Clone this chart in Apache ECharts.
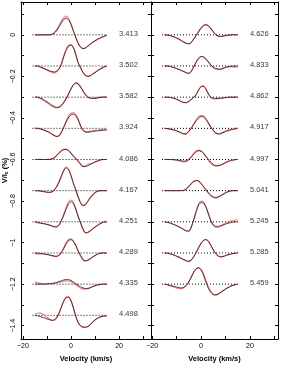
<!DOCTYPE html>
<html><head><meta charset="utf-8">
<script src="https://cdn.jsdelivr.net/npm/echarts@6/dist/echarts.min.js"></script>
<style>html,body{margin:0;padding:0;background:#fff}#c{width:281px;height:368px}</style>
</head><body><div id="c"></div>
<script>
// velocity grid (km/s)
const velocity = [-15,-14,-13,-12,-11,-10,-9,-8,-7,-6,-5,-4,-3,-2,-1,0,1,2,3,4,5,6,7,8,9,10,11,12,13,14,15];
// left column epochs (labels) and baseline offsets (%)
const leftLabels = ['3.413','3.502','3.582','3.924','4.086','4.167','4.251','4.289','4.335','4.498'];
const rightLabels = ['4.626','4.833','4.862','4.917','4.997','5.041','5.245','5.285','5.459'];
const offsets = [0,-0.15,-0.30,-0.45,-0.60,-0.75,-0.90,-1.05,-1.20,-1.35];
const baselineRange = [-16, 15];
const labelVelocity = 20;
const xTickLabels = [-20, 0, 20];
const xTicks = [-20, -10, 0, 10, 20, 30];
const yTickLabels = [0, -0.2, -0.4, -0.6, -0.8, -1, -1.2, -1.4];
const yTicks = [0.1, 0, -0.1, -0.2, -0.3, -0.4, -0.5, -0.6, -0.7, -0.8, -0.9, -1.0, -1.1, -1.2, -1.3, -1.4];

// model (black) Stokes V profiles, V/Ic in %
const mod_3413 = [0,0,0,0,0,0,0,.002,.008,.02,.038,.058,.074,.08,.072,.05,.018,-.012,-.04,-.058,-.066,-.064,-.055,-.045,-.036,-.028,-.022,-.017,-.011,-.006,-.002];
const mod_3502 = [0,0,-.004,-.008,-.013,-.018,-.023,-.027,-.029,-.025,-.015,.008,.045,.075,.095,.1,.088,.055,.015,-.008,-.03,-.045,-.05,-.047,-.04,-.032,-.024,-.016,-.01,-.004,0];
const mod_3582 = [0,0,-.003,-.008,-.015,-.022,-.03,-.038,-.045,-.049,-.048,-.04,-.025,-.008,.015,.04,.06,.069,.065,.05,.03,.012,0,-.005,-.006,-.006,-.004,-.002,0,0,0];
const mod_3924 = [0,0,-.002,-.005,-.01,-.015,-.02,-.027,-.034,-.039,-.036,-.02,.005,.03,.052,.065,.068,.06,.04,.012,-.01,-.018,-.019,-.017,-.015,-.013,-.012,-.011,-.01,-.009,-.008];
const mod_4086 = [0,0,0,0,0,0,0,.002,.008,.018,.03,.041,.047,.048,.042,.03,.017,.005,-.008,-.022,-.033,-.034,-.03,-.024,-.018,-.012,-.007,-.003,0,0,0];
const mod_4167 = [0,0,-.001,-.003,-.005,-.007,-.008,-.006,.002,.018,.04,.068,.095,.11,.1,.072,.035,.004,-.03,-.058,-.071,-.068,-.052,-.034,-.02,-.009,-.003,0,0,0,0];
const mod_4251 = [0,-.002,-.005,-.008,-.01,-.012,-.015,-.019,-.023,-.024,-.016,.005,.032,.062,.087,.097,.088,.06,.025,-.005,-.035,-.053,-.052,-.044,-.035,-.026,-.018,-.01,-.004,0,0];
const mod_4289 = [0,-.001,-.002,-.003,-.005,-.007,-.009,-.012,-.015,-.016,-.012,.002,.022,.045,.06,.064,.056,.036,.01,-.012,-.03,-.037,-.035,-.028,-.02,-.012,-.006,-.002,0,0,0];
const mod_4335 = [0,0,0,0,0,.001,.002,.003,.005,.008,.012,.016,.02,.022,.022,.018,.01,.002,-.006,-.013,-.018,-.021,-.021,-.018,-.013,-.008,-.004,-.002,0,0,0];
const mod_4498 = [0,-.002,-.005,-.009,-.013,-.017,-.021,-.024,-.022,-.012,.01,.04,.068,.084,.086,.07,.035,-.005,-.035,-.05,-.056,-.057,-.054,-.045,-.033,-.022,-.014,-.009,-.006,-.004,-.003];
const mod_4626 = [0,-.001,-.003,-.006,-.01,-.015,-.021,-.028,-.035,-.041,-.043,-.036,-.02,-.003,.015,.032,.044,.048,.043,.03,.015,.002,-.006,-.008,-.006,-.004,-.002,-.001,0,0,0];
const mod_4833 = [0,0,-.002,-.005,-.009,-.013,-.017,-.022,-.027,-.032,-.035,-.025,-.005,.018,.036,.045,.043,.033,.02,.005,-.006,-.012,-.015,-.016,-.012,-.007,-.004,-.002,-.001,0,0];
const mod_4862 = [0,0,-.001,-.003,-.006,-.01,-.015,-.021,-.026,-.026,-.02,-.011,-.002,.012,.034,.05,.052,.038,.016,-.001,-.005,-.006,-.006,-.006,-.004,-.002,-.001,0,0,0,0];
const mod_4917 = [0,-.001,-.003,-.005,-.008,-.012,-.017,-.022,-.026,-.025,-.014,0,.018,.036,.05,.057,.055,.043,.025,.006,-.01,-.022,-.027,-.026,-.021,-.016,-.012,-.008,-.005,-.003,-.001];
const mod_4997 = [0,0,0,0,-.001,-.002,-.004,-.006,-.008,-.007,0,.012,.026,.037,.042,.04,.03,.015,.001,-.013,-.024,-.029,-.03,-.027,-.022,-.016,-.01,-.006,-.003,-.001,0];
const mod_5041 = [0,0,0,0,0,0,0,0,.001,.008,.02,.033,.043,.048,.046,.035,.02,.005,-.01,-.022,-.03,-.033,-.03,-.024,-.017,-.01,-.005,-.001,0,0,0];
const mod_5245 = [0,-.002,-.005,-.009,-.014,-.019,-.025,-.031,-.038,-.044,-.045,-.025,.01,.048,.08,.093,.09,.07,.038,.006,-.016,-.024,-.025,-.021,-.016,-.011,-.007,-.004,-.002,0,0];
const mod_5285 = [0,-.001,-.003,-.006,-.01,-.015,-.02,-.026,-.032,-.037,-.04,-.033,-.018,.002,.025,.046,.06,.064,.056,.037,.015,-.002,-.014,-.019,-.017,-.013,-.009,-.006,-.003,-.001,0];
const mod_5459 = [0,-.002,-.005,-.008,-.011,-.014,-.017,-.018,-.014,-.004,.012,.035,.058,.074,.078,.068,.043,.01,-.02,-.04,-.05,-.052,-.047,-.04,-.032,-.024,-.017,-.011,-.006,-.003,0];

// observed (red) Stokes V profiles, V/Ic in %
const obs_3413 = [0,0,0,-.001,0,0,0,.003,.01,.024,.044,.066,.083,.09,.08,.055,.02,-.012,-.042,-.06,-.066,-.062,-.054,-.045,-.037,-.03,-.022,-.015,-.01,-.006,-.003];
const obs_3502 = [.002,0,-.003,-.009,-.014,-.02,-.026,-.03,-.033,-.028,-.014,.01,.05,.082,.1,.104,.09,.056,.014,-.01,-.032,-.046,-.05,-.046,-.038,-.03,-.022,-.014,-.008,-.003,0];
const obs_3582 = [0,-.001,-.005,-.011,-.019,-.027,-.035,-.043,-.05,-.052,-.049,-.04,-.024,-.006,.016,.04,.058,.066,.062,.048,.03,.013,.002,-.003,-.004,-.003,-.002,-.001,0,0,0];
const obs_3924 = [0,0,-.003,-.006,-.01,-.014,-.02,-.028,-.035,-.04,-.036,-.018,.008,.036,.06,.074,.076,.066,.044,.014,-.008,-.015,-.016,-.014,-.012,-.01,-.008,-.007,-.006,-.005,-.004];
const obs_4086 = [0,0,.001,0,0,.001,.002,.004,.01,.02,.032,.043,.05,.05,.043,.03,.016,.004,-.01,-.024,-.034,-.032,-.022,-.02,-.018,-.013,-.008,-.004,-.001,0,0];
const obs_4167 = [0,0,-.002,-.004,-.006,-.008,-.009,-.006,.003,.02,.044,.074,.102,.115,.104,.074,.036,.003,-.032,-.06,-.072,-.066,-.05,-.034,-.021,-.01,-.004,-.001,0,0,0];
const obs_4251 = [0,-.004,-.006,-.007,-.009,-.013,-.017,-.021,-.025,-.025,-.015,.008,.038,.07,.096,.105,.094,.064,.027,-.006,-.036,-.052,-.05,-.042,-.033,-.025,-.017,-.01,-.004,-.001,0];
const obs_4289 = [-.003,-.004,-.005,-.005,-.006,-.008,-.01,-.013,-.016,-.016,-.01,.005,.026,.05,.065,.068,.058,.036,.008,-.015,-.034,-.04,-.035,-.027,-.019,-.012,-.006,-.002,0,0,0];
const obs_4335 = [.01,.008,.005,.003,.002,.002,.003,.003,.004,.006,.008,.011,.014,.016,.016,.012,.005,-.003,-.012,-.02,-.024,-.024,-.02,-.016,-.011,-.007,-.004,-.002,-.001,0,.001];
const obs_4498 = [.006,.01,.012,.008,0,-.01,-.018,-.024,-.024,-.014,.008,.04,.07,.088,.09,.072,.036,-.004,-.036,-.052,-.058,-.058,-.054,-.046,-.034,-.023,-.014,-.008,-.004,-.002,-.002];
const obs_4626 = [.002,0,-.003,-.007,-.011,-.016,-.022,-.029,-.036,-.042,-.044,-.036,-.02,-.002,.016,.034,.046,.05,.044,.03,.014,.001,-.006,-.008,-.006,-.003,-.002,0,.001,.001,0];
const obs_4833 = [.002,.001,0,-.003,-.007,-.011,-.016,-.022,-.028,-.034,-.037,-.026,-.004,.02,.038,.047,.044,.033,.019,.004,-.008,-.014,-.016,-.014,-.01,-.006,-.003,-.003,-.004,-.005,-.005];
const obs_4862 = [0,0,-.001,-.003,-.006,-.011,-.016,-.022,-.027,-.027,-.02,-.01,0,.014,.036,.052,.054,.04,.016,-.002,-.008,-.008,-.006,-.005,-.003,-.002,-.001,0,0,0,0];
const obs_4917 = [0,-.001,-.003,-.006,-.009,-.013,-.018,-.024,-.029,-.027,-.014,.002,.022,.042,.057,.063,.06,.046,.026,.006,-.01,-.022,-.026,-.024,-.018,-.012,-.008,-.005,-.002,0,.001];
const obs_4997 = [.001,0,0,-.001,-.002,-.004,-.007,-.01,-.012,-.009,.001,.014,.03,.042,.045,.041,.03,.014,-.002,-.018,-.028,-.032,-.03,-.026,-.02,-.014,-.009,-.005,-.002,0,0];
const obs_5041 = [0,0,0,0,0,0,0,.001,.003,.01,.022,.035,.045,.05,.047,.035,.019,.003,-.012,-.025,-.033,-.036,-.033,-.026,-.018,-.011,-.005,-.002,0,0,0];
const obs_5245 = [.001,-.001,-.004,-.008,-.013,-.018,-.024,-.03,-.037,-.043,-.045,-.024,.012,.052,.088,.1,.096,.074,.04,.006,-.016,-.022,-.022,-.018,-.012,-.006,-.001,.003,.006,.008,.01];
const obs_5285 = [.002,.001,-.002,-.006,-.011,-.016,-.021,-.027,-.033,-.039,-.042,-.034,-.017,.004,.028,.048,.062,.066,.057,.037,.014,-.003,-.014,-.018,-.016,-.012,-.008,-.005,-.002,0,0];
const obs_5459 = [0,-.003,-.007,-.011,-.015,-.019,-.021,-.022,-.017,-.006,.01,.034,.058,.075,.08,.072,.05,.018,-.012,-.034,-.048,-.052,-.048,-.04,-.031,-.023,-.016,-.01,-.005,-.002,0];

const leftModel = [mod_3413,mod_3502,mod_3582,mod_3924,mod_4086,mod_4167,mod_4251,mod_4289,mod_4335,mod_4498];
const leftObs = [obs_3413,obs_3502,obs_3582,obs_3924,obs_4086,obs_4167,obs_4251,obs_4289,obs_4335,obs_4498];
const rightModel = [mod_4626,mod_4833,mod_4862,mod_4917,mod_4997,mod_5041,mod_5245,mod_5285,mod_5459];
const rightObs = [obs_4626,obs_4833,obs_4862,obs_4917,obs_4997,obs_5041,obs_5245,obs_5285,obs_5459];

const FONT = 'Liberation Sans, Arial, sans-serif';
const minus = v => (v < 0 ? '\u2212' : '') + Math.abs(v);

function xAx(gi, pos, min, max, withLabels) {
  return {
    type: 'value', gridIndex: gi, position: pos, min: min, max: max,
    name: withLabels ? 'Velocity (km/s)' : '', nameLocation: 'middle', nameGap: 16,
    nameTextStyle: {fontFamily: FONT, fontSize: 7.5, fontWeight: 'bold', color: '#000'},
    axisLine: {show: true, onZero: false, lineStyle: {color: '#000', width: 1}},
    axisTick: {show: true, inside: true, length: 3, customValues: xTicks, lineStyle: {color: '#000'}},
    axisLabel: {show: withLabels, customValues: xTickLabels, formatter: minus, fontFamily: FONT, fontSize: 7, color: '#000', margin: 4},
    splitLine: {show: false}
  };
}
function yAx(gi, pos, withLabels) {
  return {
    type: 'value', gridIndex: gi, position: pos, min: -1.464, max: 0.158,
    name: withLabels ? 'V/I{s|c} (%)' : '', nameLocation: 'middle', nameGap: 10, nameRotate: 90,
    nameTextStyle: {fontFamily: FONT, fontSize: 7.5, fontWeight: 'bold', color: '#000',
      rich: {s: {fontFamily: FONT, fontSize: 5, fontWeight: 'bold', color: '#000', padding: [3, 0, 0, 0]}}},
    axisLine: {show: true, onZero: false, lineStyle: {color: '#000', width: 1}},
    axisTick: {show: true, inside: true, length: 3, customValues: yTicks, lineStyle: {color: '#000'}},
    axisLabel: {show: withLabels, customValues: yTickLabels, formatter: minus, rotate: 90, fontFamily: FONT, fontSize: 7, color: '#000', margin: 4},
    splitLine: {show: false}
  };
}

const series = [];
function addPanel(models, obs, labels, axisIdx) {
  models.forEach((m, i) => {
    const off = offsets[i];
    series.push({
      type: 'line', xAxisIndex: axisIdx, yAxisIndex: axisIdx, silent: true,
      data: [[baselineRange[0], off], [baselineRange[1], off]],
      showSymbol: false, lineStyle: {color: '#000', width: 1, type: [1, 2]}, z: 1
    });
    series.push({
      type: 'line', xAxisIndex: axisIdx, yAxisIndex: axisIdx, silent: true,
      data: velocity.map((v, j) => [v, off + obs[i][j]]),
      showSymbol: false, smooth: 0.25, lineStyle: {color: '#ff5a5a', width: 1.2, opacity: 0.75}, z: 2
    });
    series.push({
      type: 'line', xAxisIndex: axisIdx, yAxisIndex: axisIdx, silent: true,
      data: velocity.map((v, j) => [v, off + m[j]]),
      showSymbol: false, smooth: 0.25, lineStyle: {color: '#111', width: 0.8}, z: 3
    });
    series.push({
      type: 'scatter', xAxisIndex: axisIdx, yAxisIndex: axisIdx, silent: true,
      data: [[labelVelocity, off]], symbolSize: 0,
      label: {show: true, position: 'right', distance: 0, offset: [0, -1], formatter: labels[i],
        fontFamily: FONT, fontSize: 7.5, color: '#000'}, z: 4
    });
  });
}
addPanel(leftModel, leftObs, leftLabels, 0);
addPanel(rightModel, rightObs, rightLabels, 2);

const chart = echarts.init(document.getElementById('c'), null, {renderer: 'canvas'});
chart.setOption({
  animation: false,
  backgroundColor: '#fff',
  grid: [
    {left: 21, top: 2, width: 130, height: 342},
    {left: 151, top: 2, width: 127, height: 342}
  ],
  xAxis: [
    xAx(0, 'bottom', -20.8, 33.3, true),
    xAx(0, 'top', -20.8, 33.3, false),
    xAx(1, 'bottom', -20.5, 31.5, true),
    xAx(1, 'top', -20.5, 31.5, false)
  ],
  yAxis: [
    yAx(0, 'left', true),
    yAx(0, 'right', false),
    yAx(1, 'left', false),
    yAx(1, 'right', false)
  ],
  series: series
});
</script>
</body></html>
